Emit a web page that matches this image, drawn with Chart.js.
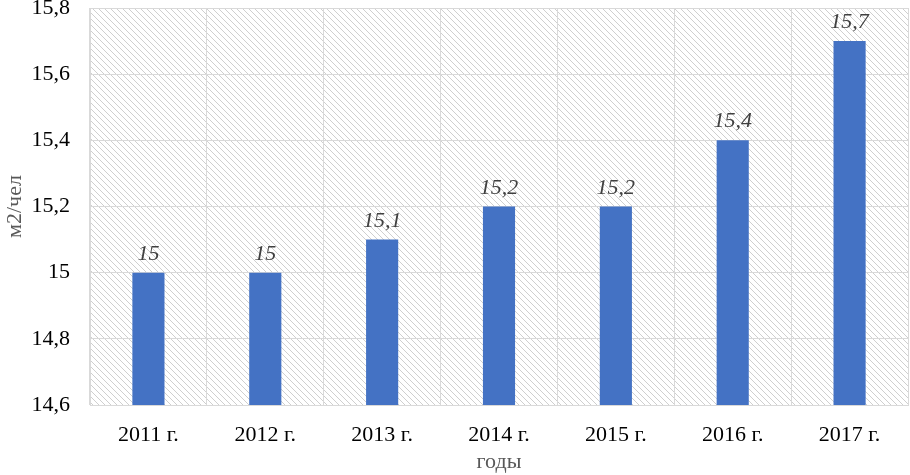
<!DOCTYPE html>
<html>
<head>
<meta charset="utf-8">
<script src="https://cdn.jsdelivr.net/npm/chart.js@4"></script>
<style>
  html, body { margin: 0; padding: 0; background: #fff; }
  #wrap { width: 910px; height: 475px; }
</style>
</head>
<body>
<div id="wrap"><canvas id="chart"></canvas></div>
<script>
const years = ['2011 г.', '2012 г.', '2013 г.', '2014 г.', '2015 г.', '2016 г.', '2017 г.'];
const area = [15, 15, 15.1, 15.2, 15.2, 15.4, 15.7];

const fmt = v => String(Math.round(v * 10) / 10).replace('.', ',');

function hatchPattern(ctx) {
  const c = document.createElement('canvas');
  c.width = 6; c.height = 6;
  const g = c.getContext('2d');
  g.fillStyle = '#fff';
  g.fillRect(0, 0, 6, 6);
  g.strokeStyle = '#cfcfcf';
  g.lineWidth = 1;
  g.beginPath();
  g.moveTo(0, 0); g.lineTo(6, 6);
  g.moveTo(-3, 3); g.lineTo(3, 9);
  g.moveTo(3, -3); g.lineTo(9, 3);
  g.stroke();
  return ctx.createPattern(c, 'repeat');
}

const hatch = {
  id: 'hatch',
  beforeDraw(chart) {
    const { ctx, chartArea: a } = chart;
    ctx.save();
    ctx.fillStyle = hatchPattern(ctx);
    ctx.fillRect(a.left, a.top, a.right - a.left, a.bottom - a.top);
    ctx.restore();
  }
};

const valueLabels = {
  id: 'valueLabels',
  afterDatasetsDraw(chart) {
    const { ctx } = chart;
    ctx.save();
    ctx.font = 'italic 22px "Liberation Serif"';
    ctx.fillStyle = '#404040';
    ctx.textAlign = 'center';
    ctx.textBaseline = 'alphabetic';
    chart.getDatasetMeta(0).data.forEach((bar, i) => {
      ctx.fillText(fmt(area[i]), bar.x, bar.y - 13);
    });
    ctx.restore();
  }
};

const serif = { family: 'Liberation Serif', size: 22 };

new Chart(document.getElementById('chart'), {
  type: 'bar',
  data: {
    labels: years,
    datasets: [{
      data: area,
      backgroundColor: '#4472c4',
      barPercentage: 0.55,
      categoryPercentage: 0.5
    }]
  },
  options: {
    responsive: true,
    maintainAspectRatio: false,
    animation: false,
    layout: { padding: { top: 8, right: 2, bottom: 0, left: 0 } },
    plugins: { legend: { display: false }, tooltip: { enabled: false } },
    scales: {
      x: {
        grid: { color: '#d9d9d9', offset: true, drawTicks: false },
        border: { color: '#d9d9d9' },
        ticks: { color: '#000', font: serif, padding: 17 },
        title: { display: true, text: 'годы', color: '#595959', font: serif, padding: { top: 0, bottom: 0 } },
        afterFit(scale) {
          scale.height = 70;
        }
      },
      y: {
        min: 14.6,
        max: 15.8,
        grid: { color: '#d9d9d9', drawTicks: false },
        border: { color: '#d9d9d9' },
        ticks: { stepSize: 0.2, color: '#000', font: serif, padding: 20, callback: v => fmt(v) },
        title: { display: true, text: 'м2/чел', color: '#595959', font: serif, padding: { top: 2, bottom: 2 } },
        afterFit(scale) {
          scale.paddingTop = 0;
          scale.paddingBottom = 0;
          scale.width = 90;
        }
      }
    }
  },
  plugins: [hatch, valueLabels]
});
</script>
</body>
</html>
